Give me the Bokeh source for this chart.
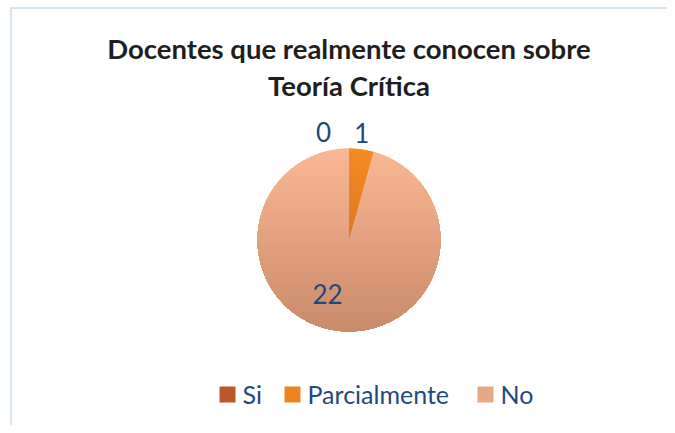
import math
import numpy as np
from bokeh.plotting import figure
from bokeh.models import Range1d, ColumnDataSource
from bokeh.core.properties import value
from bokeh.embed import file_html
from bokeh.resources import INLINE

# ---- data ----
categories = ["Si", "Parcialmente", "No"]
counts = [0, 1, 22]
title_lines = ["Docentes que realmente conocen sobre", "Teoría Crítica"]

# ---- style ----
slice_top = [(200, 101, 46), (247, 139, 35), (250, 185, 148)]
slice_bottom = [(160, 76, 34), (192, 104, 30), (201, 138, 106)]
legend_colors = ["#B85A28", "#EE841F", "#E8A884"]
label_color = "#1F497D"
FONT = "Lato"

W, H = 667, 425
p = figure(width=W, height=H, output_backend="svg", toolbar_location=None,
           x_range=Range1d(0, W), y_range=Range1d(0, H), min_border=0)
p.axis.visible = False
p.grid.visible = False
p.outline_line_color = None
p.background_fill_color = "white"
p.border_fill_color = "white"


def Y(page_y):
    return H - page_y


def hexc(c):
    return "#%02X%02X%02X" % tuple(int(round(v)) for v in c)


# frame lines (light blue)
p.line([10.5, 10.5], [0, Y(6.5)], line_color="#D6E4F4", line_width=2)
p.line([10.5, W], [Y(7.5), Y(7.5)], line_color="#D6E4F4", line_width=2)

# title
for i, (t, py) in enumerate(zip(title_lines, [47.5, 84.5])):
    p.text(x=[348.5], y=[Y(py)], text=[t], text_align="center",
           text_baseline="middle", text_font=value(FONT), text_font_style="bold",
           text_font_size="27.5px", text_color="#1E1E1E")

# pie
cx, cy, r = 348.5, Y(239.5), 91.5
total = float(sum(counts))
fr = np.array(counts) / total
c1 = np.cumsum(fr)
c0 = c1 - fr
start = math.pi / 2 - 2 * math.pi * c1
end = math.pi / 2 - 2 * math.pi * c0
mask = np.array(counts) > 0
src = ColumnDataSource(dict(
    start=start[mask], end=end[mask],
    color=[hexc(c) for c, m in zip(slice_top, mask) if m],
))
p.wedge(x=cx, y=cy, radius=r, start_angle="start", end_angle="end",
        direction="anticlock", fill_color="color", line_color=None, source=src)


# vertical colour shading of each slice (stacked clipped pieces)
def clip_below(poly, yk):
    out = []
    n = len(poly)
    for i in range(n):
        (x1, y1), (x2, y2) = poly[i], poly[(i + 1) % n]
        in1, in2 = y1 <= yk, y2 <= yk
        if in1:
            out.append((x1, y1))
        if in1 != in2:
            t = (yk - y1) / (y2 - y1)
            out.append((x1 + t * (x2 - x1), yk))
    return out


N = 45
xs, ys, cols = [], [], []
for k in range(N):
    yk = cy + r - k * (2 * r) / N
    f = (k + 0.5) / N
    for i in range(len(counts)):
        if counts[i] <= 0:
            continue
        a0, a1 = 2 * math.pi * c0[i], 2 * math.pi * c1[i]
        ts = np.linspace(a0, a1, max(8, int(200 * (a1 - a0))))
        poly = [(cx, cy)] + [(cx + r * math.sin(t), cy + r * math.cos(t)) for t in ts]
        cp = clip_below(poly, yk)
        if len(cp) < 3:
            continue
        xs.append([q[0] for q in cp])
        ys.append([q[1] for q in cp])
        cols.append(hexc([a + (b - a) * f for a, b in zip(slice_top[i], slice_bottom[i])]))
p.patches(xs, ys, fill_color=cols, line_color=None)

# data labels
mid = 2 * math.pi * (c0 + c1) / 2  # clockwise from top
label_x, label_y = [], []
nudge_x = [-25.5, -2, -14]
for i, f in enumerate(fr):
    rad = r + 17 if f < 0.1 else 0.6 * r
    label_x.append(cx + rad * math.sin(mid[i]) + nudge_x[i])
    label_y.append(cy + rad * math.cos(mid[i]))
p.text(x=label_x, y=label_y, text=[str(c) for c in counts], text_align="center",
       text_baseline="middle", text_font=value(FONT), text_font_size="26px",
       text_color=label_color)

# legend
sq_x = [227, 292, 485]
txt_x = [242, 307, 500]
p.rect(x=sq_x, y=[Y(394)] * 3, width=16, height=16,
       fill_color=legend_colors, line_color=None)
p.text(x=txt_x, y=[Y(393.5)] * 3, text=categories, text_align="left",
       text_baseline="middle", text_font=value(FONT), text_font_size="25px",
       text_color=label_color)

open("out.html", "w").write(file_html(p, INLINE))
